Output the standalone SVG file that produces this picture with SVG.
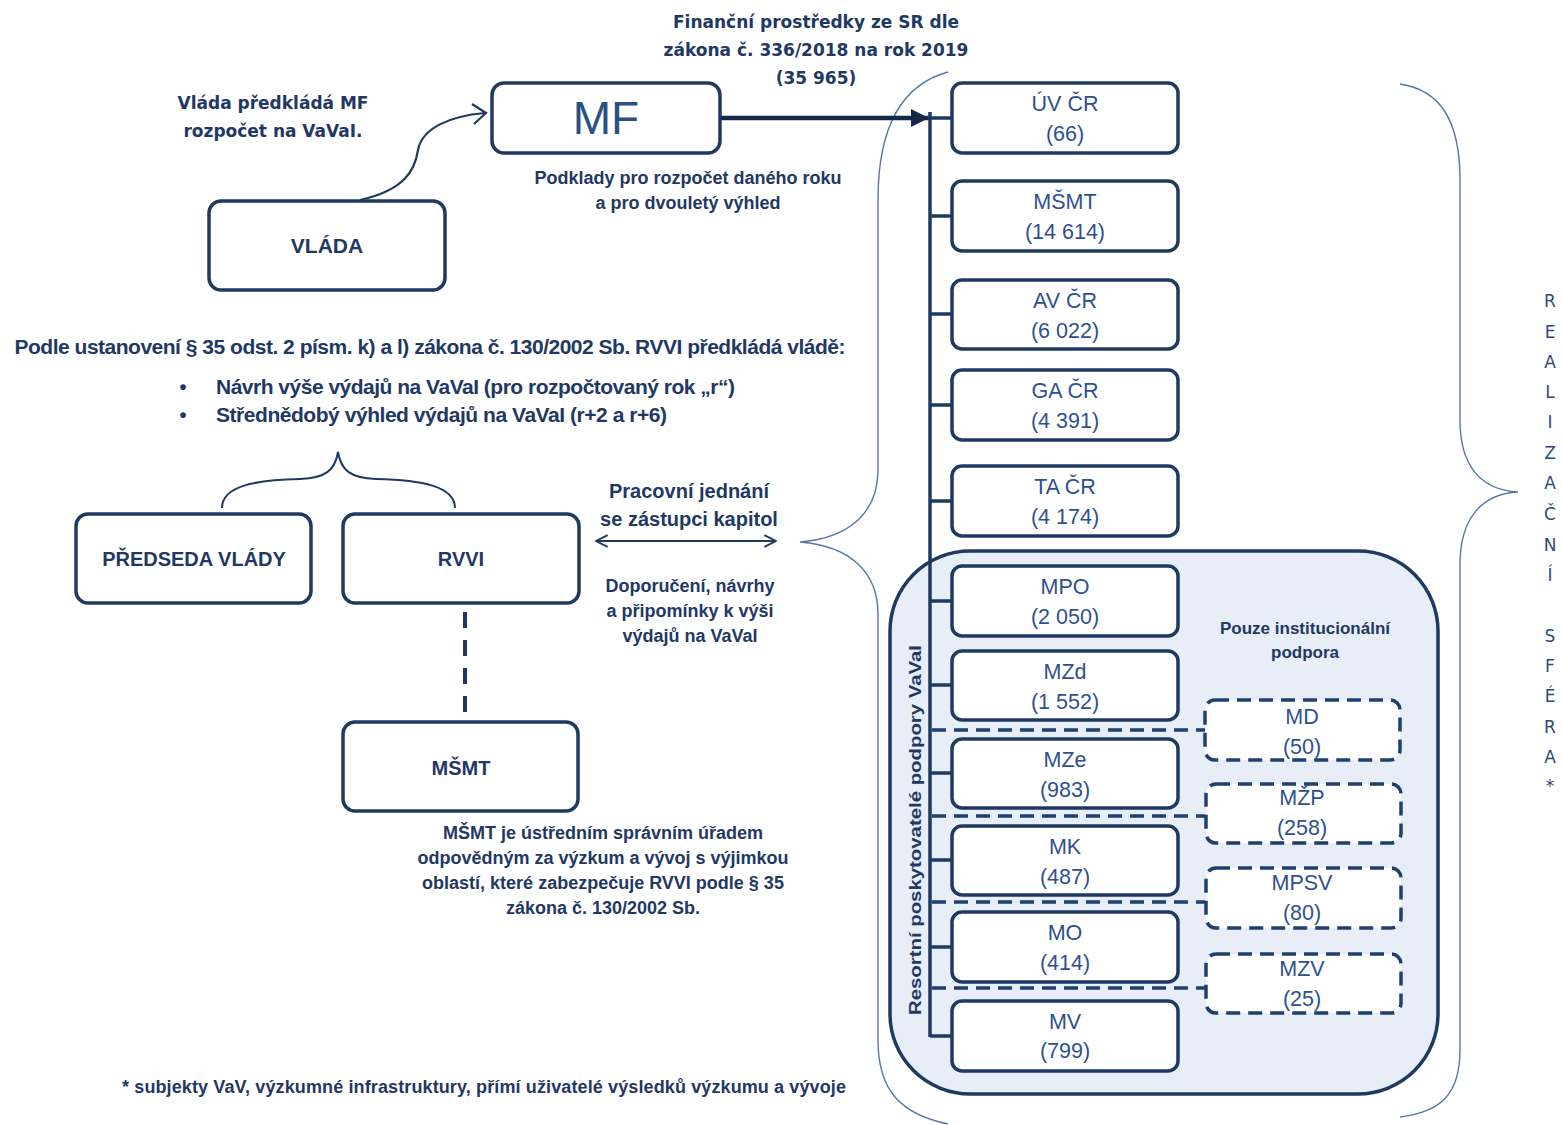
<svg xmlns="http://www.w3.org/2000/svg" width="1563" height="1125" viewBox="0 0 1563 1125">
<defs>
<style>
.box{fill:#fff;stroke:#1f3a60;stroke-width:3.5}
.dbox{fill:#fff;stroke:#1f3f6e;stroke-width:3.5;stroke-dasharray:14 8}
.lbl{font-family:"Liberation Sans",Arial,sans-serif;font-weight:bold;fill:#1f3864;text-anchor:middle}
.note{font-family:"Liberation Sans",Arial,sans-serif;font-weight:bold;fill:#1f3864;text-anchor:middle}
.wide{font-family:"DejaVu Sans",Verdana,sans-serif;font-weight:bold;fill:#1f3864;text-anchor:middle}
.start{text-anchor:start}
.rt{font-family:"Liberation Sans",Arial,sans-serif;fill:#2f5090;font-size:21.5px;text-anchor:middle}
.ln{fill:none;stroke:#1f3a60;stroke-width:3.5}
.dl{fill:none;stroke:#1f3f6e;stroke-width:3.5;stroke-dasharray:14 8}
.brace{fill:none;stroke:#5577a8;stroke-width:1.4}
.side{font-family:"DejaVu Sans",sans-serif;fill:#2f4a78;font-size:17px;text-anchor:middle}
</style>
<marker id="ah" viewBox="0 0 10 10" refX="10" refY="5" markerWidth="4" markerHeight="4" orient="auto" markerUnits="strokeWidth">
<path d="M0,0 L10,5 L0,10 Z" fill="#14284a"/>
</marker>
<marker id="oa" viewBox="0 0 12 12" refX="11" refY="6" markerWidth="7" markerHeight="7" orient="auto-start-reverse" markerUnits="strokeWidth">
<path d="M1,1 L11,6 L1,11" fill="none" stroke="#1f3a60" stroke-width="1.6"/>
</marker>
</defs>
<rect width="1563" height="1125" fill="#fff"/>

<!-- container -->
<g id="container">
<rect x="890" y="551" width="548" height="543" rx="80" fill="#e8eef7" stroke="#1f3a60" stroke-width="3.5"/>
<text transform="translate(917,830) rotate(-90)" font-family="Liberation Sans,Arial,sans-serif" font-weight="bold" font-size="17" fill="#1f3864" text-anchor="middle" dominant-baseline="middle" textLength="370" lengthAdjust="spacingAndGlyphs">Resortní poskytovatelé podpory VaVaI</text>
<text class="note" x="1305" y="634" font-size="17">Pouze institucionální</text>
<text class="note" x="1305" y="658" font-size="17">podpora</text>
</g>

<!-- braces -->
<g id="braces">
<path class="brace" d="M948,72 C900,85 878,130 878,200 L878,470 C878,512 850,538 800,542 C850,546 878,572 878,614 L878,1040 C878,1090 900,1114 948,1124"/>
<path class="brace" d="M1400,84 C1440,90 1460,120 1460,180 L1460,420 C1460,465 1480,490 1518,492 C1480,494 1460,520 1460,565 L1460,1050 C1460,1095 1440,1112 1400,1117"/>
<path fill="none" stroke="#1f3a60" stroke-width="2" d="M222,508 C222,486 255,480 300,479 C326,478 335,470 338,452 C341,470 350,478 376,479 C421,480 455,486 455,508"/>
</g>

<!-- connectors -->
<g id="connectors">
<line x1="721" y1="118" x2="929" y2="118" stroke="#14284a" stroke-width="4.5" marker-end="url(#ah)"/>
<line class="ln" x1="930" y1="112" x2="930" y2="1037" stroke-width="4.5"/>
<path class="ln" d="M930,118 H952 M930,216 H952 M930,314 H952 M930,405 H952 M930,501 H952 M930,601 H952 M930,685 H952 M930,773 H952 M930,860 H952 M930,947 H952 M930,1036 H952"/>
<path class="dl" d="M932,730 H1205 M932,816 H1205 M932,902 H1205 M932,988 H1205"/>
<path fill="none" stroke="#1f3a60" stroke-width="2.2" d="M360,200 C405,190 415,170 418,150 C422,128 450,116 485,113"/>
<path fill="none" stroke="#1f3a60" stroke-width="2.2" d="M472,104 L486,113 L474,124"/>
<line x1="596" y1="541" x2="776" y2="541" stroke="#1f3a60" stroke-width="2" marker-start="url(#oa)" marker-end="url(#oa)"/>
<line x1="465" y1="612" x2="465" y2="716" stroke="#1f3a60" stroke-width="4" stroke-dasharray="16 12"/>
</g>

<!-- left nodes -->
<g id="mf">
<rect class="box" x="492" y="83" width="228" height="70" rx="12"/>
<text x="606" y="134" font-family="Liberation Sans,Arial,sans-serif" font-size="46" fill="#2a5085" text-anchor="middle">MF</text>
</g>
<g id="vlada">
<rect class="box" x="209" y="201" width="236" height="89" rx="12"/>
<text class="lbl" x="327" y="253" font-size="21">VLÁDA</text>
</g>
<g id="predseda">
<rect class="box" x="76" y="514" width="235" height="89" rx="12"/>
<text class="lbl" x="194" y="566" font-size="20">PŘEDSEDA VLÁDY</text>
</g>
<g id="rvvi">
<rect class="box" x="343" y="514" width="236" height="89" rx="12"/>
<text class="lbl" x="461" y="566" font-size="20">RVVI</text>
</g>
<g id="msmt-left">
<rect class="box" x="343" y="722" width="235" height="89" rx="12"/>
<text class="lbl" x="461" y="775" font-size="20">MŠMT</text>
</g>

<!-- right nodes -->
<g id="uv"><rect class="box" x="952" y="83" width="226" height="70" rx="10"/><text class="rt" x="1065" y="111">ÚV ČR</text><text class="rt" x="1065" y="141">(66)</text></g>
<g id="msmt"><rect class="box" x="952" y="181" width="226" height="70" rx="10"/><text class="rt" x="1065" y="209">MŠMT</text><text class="rt" x="1065" y="239">(14 614)</text></g>
<g id="av"><rect class="box" x="952" y="280" width="226" height="69" rx="10"/><text class="rt" x="1065" y="308">AV ČR</text><text class="rt" x="1065" y="338">(6 022)</text></g>
<g id="ga"><rect class="box" x="952" y="370" width="226" height="70" rx="10"/><text class="rt" x="1065" y="398">GA ČR</text><text class="rt" x="1065" y="428">(4 391)</text></g>
<g id="ta"><rect class="box" x="952" y="466" width="226" height="70" rx="10"/><text class="rt" x="1065" y="494">TA ČR</text><text class="rt" x="1065" y="524">(4 174)</text></g>
<g id="mpo"><rect class="box" x="952" y="566" width="226" height="70" rx="10"/><text class="rt" x="1065" y="594">MPO</text><text class="rt" x="1065" y="624">(2 050)</text></g>
<g id="mzd"><rect class="box" x="952" y="651" width="226" height="69" rx="10"/><text class="rt" x="1065" y="679">MZd</text><text class="rt" x="1065" y="709">(1 552)</text></g>
<g id="mze"><rect class="box" x="952" y="739" width="226" height="69" rx="10"/><text class="rt" x="1065" y="767">MZe</text><text class="rt" x="1065" y="797">(983)</text></g>
<g id="mk"><rect class="box" x="952" y="826" width="226" height="69" rx="10"/><text class="rt" x="1065" y="854">MK</text><text class="rt" x="1065" y="884">(487)</text></g>
<g id="mo"><rect class="box" x="952" y="912" width="226" height="70" rx="10"/><text class="rt" x="1065" y="940">MO</text><text class="rt" x="1065" y="970">(414)</text></g>
<g id="mv"><rect class="box" x="952" y="1001" width="226" height="70" rx="10"/><text class="rt" x="1065" y="1029">MV</text><text class="rt" x="1065" y="1058">(799)</text></g>

<g id="md"><rect class="dbox" x="1205" y="700" width="195" height="60" rx="10"/><text class="rt" x="1302" y="724">MD</text><text class="rt" x="1302" y="754">(50)</text></g>
<g id="mzp"><rect class="dbox" x="1206" y="784" width="195" height="59" rx="10"/><text class="rt" x="1302" y="805">MŽP</text><text class="rt" x="1302" y="835">(258)</text></g>
<g id="mpsv"><rect class="dbox" x="1206" y="868" width="195" height="60" rx="10"/><text class="rt" x="1302" y="890">MPSV</text><text class="rt" x="1302" y="920">(80)</text></g>
<g id="mzv"><rect class="dbox" x="1206" y="954" width="195" height="59" rx="10"/><text class="rt" x="1302" y="976">MZV</text><text class="rt" x="1302" y="1006">(25)</text></g>

<!-- texts -->
<g id="texts">
<text class="wide" x="816" y="28" font-size="17">Finanční prostředky ze SR dle</text>
<text class="wide" x="816" y="56" font-size="17">zákona č. 336/2018 na rok 2019</text>
<text class="wide" x="816" y="84" font-size="17">(35 965)</text>
<text class="wide" x="273" y="109" font-size="17">Vláda předkládá MF</text>
<text class="wide" x="273" y="137" font-size="17">rozpočet na VaVaI.</text>
<text class="note" x="688" y="184" font-size="18">Podklady pro rozpočet daného roku</text>
<text class="note" x="688" y="209" font-size="18">a pro dvouletý výhled</text>
<text class="note" x="430" y="354" font-size="21" textLength="831">Podle ustanovení § 35 odst. 2 písm. k) a l) zákona č. 130/2002 Sb. RVVI předkládá vládě:</text>
<text class="note" x="183" y="394" font-size="20">•</text>
<text class="note" x="183" y="422" font-size="20">•</text>
<text class="note start" x="216" y="394" font-size="21" textLength="519">Návrh výše výdajů na VaVaI (pro rozpočtovaný rok „r“)</text>
<text class="note start" x="216" y="422" font-size="21" textLength="451">Střednědobý výhled výdajů na VaVaI (r+2 a r+6)</text>
<text class="note" x="689" y="498" font-size="20">Pracovní jednání</text>
<text class="note" x="689" y="526" font-size="20">se zástupci kapitol</text>
<text class="note" x="690" y="592" font-size="18">Doporučení, návrhy</text>
<text class="note" x="690" y="617" font-size="18">a připomínky k výši</text>
<text class="note" x="690" y="642" font-size="18">výdajů na VaVaI</text>
<text class="note" x="603" y="839" font-size="18">MŠMT je ústředním správním úřadem</text>
<text class="note" x="603" y="864" font-size="18">odpovědným za výzkum a vývoj s výjimkou</text>
<text class="note" x="603" y="889" font-size="18">oblastí, které zabezpečuje RVVI podle § 35</text>
<text class="note" x="603" y="914" font-size="18">zákona č. 130/2002 Sb.</text>
<text class="note" x="484" y="1093" font-size="18" textLength="724">* subjekty VaV, výzkumné infrastruktury, přímí uživatelé výsledků výzkumu a vývoje</text>
</g>

<g id="side">
<text class="side" x="1550" y="307">R</text>
<text class="side" x="1550" y="338">E</text>
<text class="side" x="1550" y="368">A</text>
<text class="side" x="1550" y="398">L</text>
<text class="side" x="1550" y="428">I</text>
<text class="side" x="1550" y="459">Z</text>
<text class="side" x="1550" y="489">A</text>
<text class="side" x="1550" y="520">Č</text>
<text class="side" x="1550" y="551">N</text>
<text class="side" x="1550" y="581">Í</text>
<text class="side" x="1550" y="642">S</text>
<text class="side" x="1550" y="672">F</text>
<text class="side" x="1550" y="702">É</text>
<text class="side" x="1550" y="733">R</text>
<text class="side" x="1550" y="763">A</text>
<text class="side" x="1550" y="792">*</text>
</g>
</svg>
